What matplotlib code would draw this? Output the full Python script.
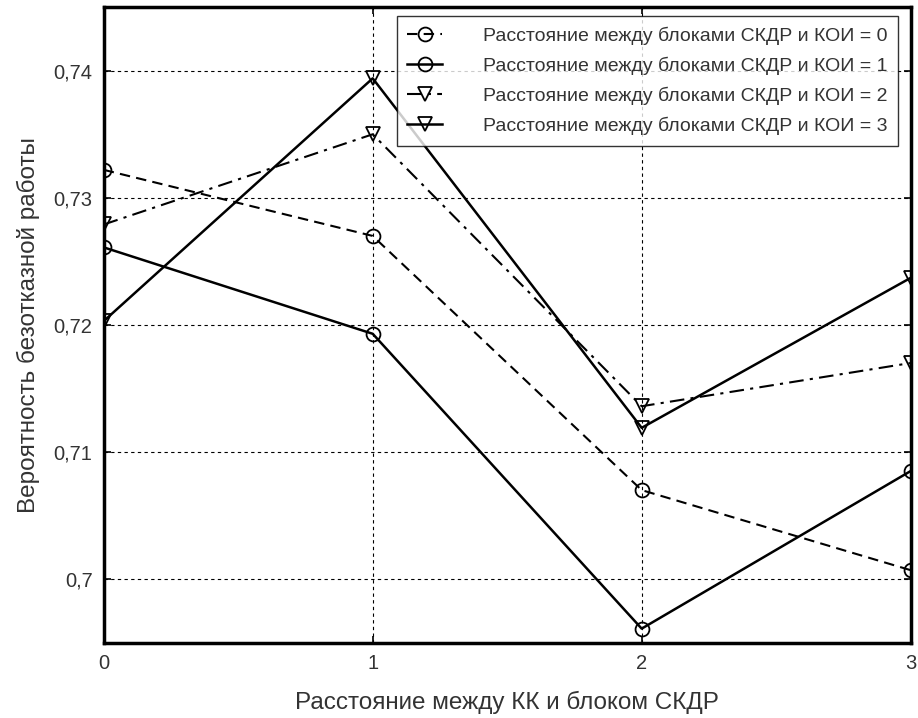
import matplotlib
matplotlib.use('Agg')
import matplotlib.pyplot as plt
from matplotlib.ticker import FuncFormatter

plt.rcParams['font.family'] = ['Liberation Sans', 'DejaVu Sans']

# distance between KK and SKDR block
x = [0, 1, 2, 3]

# probability of failure-free operation, one list per SKDR-KOI distance
d0 = [0.7322, 0.7270, 0.7070, 0.7007]
d1 = [0.7261, 0.7193, 0.6961, 0.7085]
d2 = [0.7279, 0.7350, 0.7136, 0.7170]
d3 = [0.7203, 0.7394, 0.7119, 0.7237]

labels = ['Расстояние между блоками СКДР и КОИ = %d' % i for i in range(4)]
yticks = [0.70, 0.71, 0.72, 0.73, 0.74]

txt = '#333333'

fig = plt.figure(figsize=(9.18, 7.18), dpi=100)
ax = fig.add_axes([0.113, 0.105, 0.879, 0.885])

mk = dict(color='black', markerfacecolor='none', markeredgecolor='black',
          markersize=10, markeredgewidth=1.3)
ax.plot(x, d0, linestyle=(0, (5, 3)), lw=1.5, marker='o', label=labels[0], **mk)
ax.plot(x, d1, linestyle='-', lw=1.8, marker='o', label=labels[1], **mk)
ax.plot(x, d2, linestyle=(0, (7, 3, 1.5, 3)), lw=1.5, marker='v', label=labels[2], **mk)
ax.plot(x, d3, linestyle='-', lw=1.8, marker='v', label=labels[3], **mk)

ax.set_xlim(0, 3)
ax.set_ylim(0.695, 0.745)
ax.set_xticks(x)
ax.set_yticks(yticks)
ax.yaxis.set_major_formatter(FuncFormatter(lambda v, p: ('%g' % round(v, 3)).replace('.', ',')))

ax.grid(True, color='black', linestyle=(0, (3, 3)), linewidth=0.8)
ax.tick_params(direction='in', length=5, width=1.2, labelsize=14.5, colors='black',
               labelcolor=txt, pad=8, right=True, top=True)
for s in ax.spines.values():
    s.set_linewidth(2.5)

ax.set_xlabel('Расстояние между КК и блоком СКДР', fontsize=17.5, color=txt, labelpad=13)
ax.set_ylabel('Вероятность безотказной работы', fontsize=17.5, color=txt, labelpad=10)

leg = ax.legend(loc='upper right', fontsize=14, frameon=True, fancybox=False,
                edgecolor='black', handlelength=1.8, borderpad=0.55,
                labelspacing=0.6, handletextpad=2.1, borderaxespad=0.3,
                bbox_to_anchor=(0.992, 0.995))
leg.get_frame().set_linewidth(1.0)
for t in leg.get_texts():
    t.set_color(txt)

plt.savefig('out.png', dpi=100)
